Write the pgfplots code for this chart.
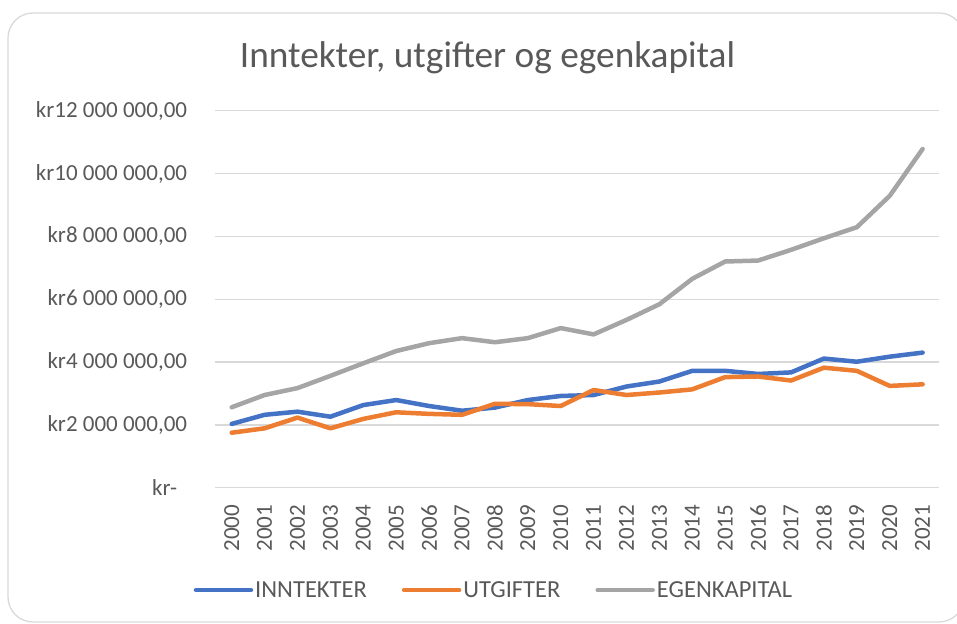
\documentclass[border=0pt]{standalone}
\usepackage{pgfplots}
\pgfplotsset{compat=1.18}
\usepackage{fontspec}
\setmainfont{Carlito}
\definecolor{cblue}{HTML}{4472C4}
\definecolor{corange}{HTML}{ED7D31}
\definecolor{cgray}{HTML}{A5A5A5}
\definecolor{gridgray}{HTML}{D9D9D9}
\definecolor{txt}{HTML}{595959}
\begin{document}
\begin{tikzpicture}[x=1pt,y=1pt]
\clip (0,0) rectangle (957,623);
\draw[gridgray, line width=1.3pt, rounded corners=25pt] (8,1) rectangle (964,610);
\node[anchor=base, text=txt, font=\fontsize{37.3}{42}\selectfont] at (487.5,555) {Inntekter, utgifter og egenkapital};
\begin{axis}[
  at={(215.25pt,135.3pt)}, anchor=south west,
  scale only axis, width=723.8pt, height=377pt,
  xmin=-0.5, xmax=21.5, ymin=0, ymax=12,
  axis line style={draw=none},
  ymajorgrids, grid style={color=gridgray, line width=1.3pt},
  major tick length=0pt,
  xtick={0,...,21},
  xticklabels={2000,2001,2002,2003,2004,2005,2006,2007,2008,2009,2010,2011,2012,2013,2014,2015,2016,2017,2018,2019,2020,2021},
  ytick={0,2,4,6,8,10,12},
  yticklabels={{kr-\hspace*{10pt}},{kr2 000 000{,}00},{kr4 000 000{,}00},{kr6 000 000{,}00},{kr8 000 000{,}00},{kr10 000 000{,}00},{kr12 000 000{,}00}},
  /pgf/number format/assume math mode=true,
  tick label style={font=\fontsize{23}{26}\selectfont, text=txt},
  yticklabel style={inner sep=0pt, anchor=east, xshift=-28pt},
  xticklabel style={rotate=90, anchor=east, inner sep=0pt},
  xticklabel shift=17pt,
  legend columns=-1,
  legend style={at={(0.385,-0.2714)}, anchor=center, draw=none, fill=none,
    font=\fontsize{24.5}{27}\selectfont, text=txt, inner sep=0pt,
    /tikz/every even column/.append style={column sep=33pt},
    nodes={inner sep=2pt}},
  legend image code/.code={\draw[#1, line width=4.5pt, line cap=round] (0pt,0pt) -- (55pt,0pt);},
  every axis plot/.append style={line width=4.5pt, line join=round, line cap=round, mark=none},
]
\addplot[cblue] coordinates {(0,2.03) (1,2.32) (2,2.42) (3,2.26) (4,2.63) (5,2.79) (6,2.60) (7,2.45) (8,2.55) (9,2.79) (10,2.92) (11,2.95) (12,3.22) (13,3.38) (14,3.72) (15,3.72) (16,3.62) (17,3.67) (18,4.11) (19,4.01) (20,4.17) (21,4.30)};
\addlegendentry{INNTEKTER}
\addplot[corange] coordinates {(0,1.75) (1,1.89) (2,2.23) (3,1.89) (4,2.19) (5,2.40) (6,2.35) (7,2.32) (8,2.67) (9,2.66) (10,2.60) (11,3.11) (12,2.95) (13,3.03) (14,3.13) (15,3.52) (16,3.54) (17,3.41) (18,3.82) (19,3.72) (20,3.24) (21,3.29)};
\addlegendentry{UTGIFTER}
\addplot[cgray] coordinates {(0,2.56) (1,2.95) (2,3.17) (3,3.56) (4,3.96) (5,4.35) (6,4.60) (7,4.76) (8,4.63) (9,4.76) (10,5.08) (11,4.88) (12,5.34) (13,5.84) (14,6.65) (15,7.20) (16,7.23) (17,7.57) (18,7.94) (19,8.29) (20,9.29) (21,10.78)};
\addlegendentry{EGENKAPITAL}
\end{axis}
\end{tikzpicture}
\end{document}
